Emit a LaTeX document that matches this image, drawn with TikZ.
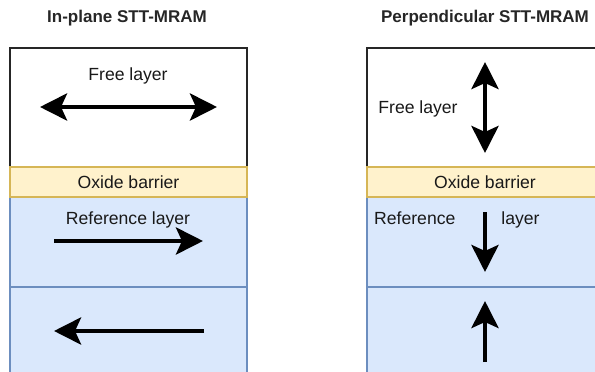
\documentclass[tikz,border=0pt]{standalone}
\usepackage{fontspec}
\setmainfont{Liberation Sans}
\usetikzlibrary{arrows.meta}
\definecolor{oxfill}{HTML}{FFF2CC}
\definecolor{oxline}{HTML}{D6B656}
\definecolor{reffill}{HTML}{DAE8FC}
\definecolor{refline}{HTML}{6C8EBF}
\tikzset{
  layerbox/.style={anchor=north west, inner sep=0pt, line width=1.5pt,
    minimum width=#1, outer sep=0pt},
  freebox/.style={layerbox=#1, draw=black!85, fill=white},
  oxbox/.style={layerbox=#1, draw=oxline, fill=oxfill},
  refbox/.style={layerbox=#1, draw=refline, fill=reffill},
  lbl/.style={font=\fontsize{17.6}{20}\selectfont, text=black!90, inner sep=0pt},
  ttl/.style={font=\fontsize{17}{20}\selectfont\bfseries, text=black!85, inner sep=0pt},
  spin/.style={line width=4.5pt, black,
    -{Stealth[length=27pt, width=27pt, inset=6pt]}},
  spinboth/.style={line width=4.5pt, black,
    {Stealth[length=27pt, width=27pt, inset=6pt]}-{Stealth[length=27pt, width=27pt, inset=6pt]}},
}
\begin{document}
\begin{tikzpicture}[x=1pt, y=-1pt]
  \useasboundingbox (0,0) rectangle (595,372);
  \clip (0,0) rectangle (595,372);

  % ---- in-plane stack ----
  \node[ttl] (tin) at (127,18) {In-plane STT-MRAM};
  \node[freebox=237pt, minimum height=119pt] (ifree) at (10,48) {};
  \node[refbox=237pt, minimum height=90pt] (iref) at (10,197) {};
  \node[refbox=237pt, minimum height=100pt] (ipin) at (10,287) {};
  \node[oxbox=237pt, minimum height=30pt] (iox) at (10,167) {};
  \node[lbl] at (iox.center) {Oxide barrier};
  \node[lbl] (ifreel) at (128,76) {Free layer};
  \node[lbl] (irefl) at (128,220) {Reference layer};

  \coordinate (ifa) at (40,107);
  \coordinate (ifb) at (217,107);
  \draw[spinboth] (ifa) -- (ifb);
  \coordinate (ira) at (54,241);
  \coordinate (irb) at (203,241);
  \draw[spin] (ira) -- (irb);
  \coordinate (ipa) at (204,331);
  \coordinate (ipb) at (54,331);
  \draw[spin] (ipa) -- (ipb);

  % ---- perpendicular stack ----
  \node[ttl] (tpe) at (485,18) {Perpendicular STT-MRAM};
  \node[freebox=240pt, minimum height=119pt] (pfree) at (367,48) {};
  \node[refbox=240pt, minimum height=90pt] (pref) at (367,197) {};
  \node[refbox=240pt, minimum height=100pt] (ppin) at (367,287) {};
  \node[oxbox=240pt, minimum height=30pt] (pox) at (367,167) {};
  \node[lbl] at (485,182) {Oxide barrier};
  \node[lbl] (pfreel) at (418,109) {Free layer};
  \node[lbl, anchor=west] (prefl) at (374,220) {Reference\hspace{46pt}layer};

  \coordinate (pfa) at (485,62);
  \coordinate (pfb) at (485,153);
  \draw[spinboth] (pfa) -- (pfb);
  \coordinate (pra) at (485,212);
  \coordinate (prb) at (485,272);
  \draw[spin] (pra) -- (prb);
  \coordinate (ppa) at (485,362);
  \coordinate (ppb) at (485,301);
  \draw[spin] (ppa) -- (ppb);
\end{tikzpicture}
\end{document}
